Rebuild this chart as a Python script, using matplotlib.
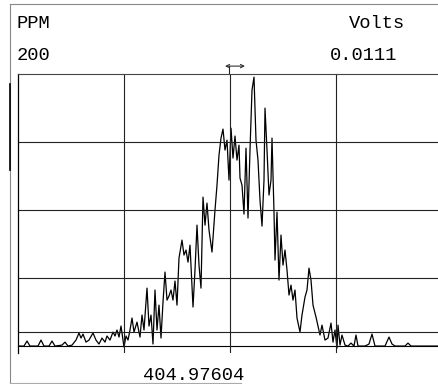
import matplotlib.pyplot as plt
from matplotlib.lines import Line2D

# trace: channel (0 = left edge) and PPM value
channel = [0, 6, 9, 12, 20, 23, 26, 31, 34, 37, 44, 47, 50, 54, 58, 61, 63, 65, 68, 71,
           75, 78, 81, 84, 87, 89, 92, 95, 97, 99, 101, 103, 106, 108, 110, 112, 114, 116, 119, 122,
           124, 126, 129, 131, 133, 135, 137, 139, 141, 143, 145, 147, 149, 151, 153, 155, 157, 159, 161, 164,
           166, 168, 170, 172, 173, 175, 177, 179, 181, 183, 185, 187, 189, 191, 194, 197, 199, 201, 203, 205,
           207, 209, 211, 213, 215, 217, 219, 221, 222, 224, 226, 228, 230, 232, 234, 236, 238, 240, 242, 244,
           246, 247, 249, 251, 253, 254, 256, 257, 259, 261, 263, 265, 267, 269, 271, 273, 275, 277, 279, 282,
           284, 287, 289, 291, 293, 295, 298, 300, 302, 304, 307, 310, 313, 315, 317, 319, 320, 322, 324, 327,
           330, 333, 336, 338, 340, 347, 351, 354, 357, 367, 371, 374, 377, 387, 390, 393, 402, 421]
ppm = [0, 0, 3.7, 0, 0, 4.4, 0, 0, 3.7, 0, 0.7, 2.9, 0, 0.7, 4.4, 9.6, 5.9, 8.8, 2.9, 4.4,
       9.6, 4.4, 1.5, 5.9, 2.9, 7.4, 4.4, 10.3, 7.4, 11.8, 6.6, 14.7, -0.7, 7.4, 4.4, 11.8, 20.6, 10.3, 17.6, 6.6,
       22.8, 11.8, 42.6, 14.7, 22.8, 1.5, 41.2, 11.8, 30.1, 5.9, 32.3, 54.4, 33.8, 36.8, 41.2, 33.8, 47.8, 30.1, 64.7, 77.9,
       66.9, 70.6, 61.7, 74.2, 59.5, 28.7, 55.9, 88.9, 59.5, 42.6, 109.5, 88.9, 105.1, 85.3, 69.1, 100.0, 118.3, 140.4, 152.9, 159.5,
       144.1, 151.4, 122.0, 160.2, 138.2, 154.4, 136.7, 147.7, 123.5, 118.3, 97.0, 145.5, 94.1, 144.1, 188.2, 197.7, 151.4, 136.7, 107.3, 88.2,
       122.0, 174.9, 144.1, 111.0, 122.0, 152.9, 98.5, 63.2, 98.5, 48.5, 81.6, 59.5, 70.6, 55.9, 37.5, 44.8, 33.8, 41.2, 20.6, 10.3,
       22.8, 36.0, 41.2, 57.3, 48.5, 30.1, 21.3, 14.7, 8.1, 15.4, 4.4, 5.9, 16.9, 2.9, 11.8, -1.5, 15.4, 0.7, 8.1, 0.7,
       0, 2.2, 0, 8.1, 0, 0, 1.5, 8.8, 0, 0, 6.6, 1.5, 0, 0, 2.2, 0, 0, 0]

grid_x = [106, 212, 318]
grid_y = [10.3, 50, 100, 150]
center_ch = 212

mono = 'Liberation Mono'

fig = plt.figure(figsize=(4.39, 3.84), dpi=100)
ax = fig.add_axes([18 / 439, 31 / 384, 421 / 439, 279 / 384])

ax.plot(channel, ppm, color='black', lw=0.9)
ax.axhline(0, color='black', lw=0.8)
for gx in grid_x:
    ax.axvline(gx, color='#222222', lw=0.8)
for gy in grid_y:
    ax.axhline(gy, color='#222222', lw=0.8)

ax.set_xlim(0, 421)
ax.set_ylim(-5.1, 200)
ax.set_xticks([])
ax.set_yticks([])
for s in ['right', 'bottom']:
    ax.spines[s].set_visible(False)
ax.spines['left'].set_linewidth(0.9)
ax.spines['top'].set_linewidth(0.8)
ax.spines['top'].set_color('#444444')

# marker above the centre line
ax.plot([center_ch - 1, center_ch - 1], [200, 205.8], color='#222222', lw=0.8, clip_on=False)
ax.annotate('', xy=(227, 205.8), xytext=(207, 205.8), annotation_clip=False,
            arrowprops=dict(arrowstyle='<->', lw=0.8, color='#333333',
                            shrinkA=0, shrinkB=0, mutation_scale=6))

# outer frame of the scanned page
fig.add_artist(Line2D([10 / 439, 1], [1 - 4 / 384, 1 - 4 / 384], color='#888888', lw=0.8))
fig.add_artist(Line2D([10 / 439, 10 / 439], [1 - 4 / 384, 1 / 384], color='#888888', lw=0.8))
fig.add_artist(Line2D([10 / 439, 10 / 439], [1 - 84 / 384, 1 - 170 / 384], color='black', lw=1.2))
fig.add_artist(Line2D([10 / 439, 0.55], [1 / 384, 1 / 384], color='#aaaaaa', lw=0.8))

fs = 13.5
fig.text(17 / 439, 1 - 24 / 384, 'PPM', family=mono, fontsize=fs, va='center', ha='left')
fig.text(17 / 439, 1 - 55 / 384, '200', family=mono, fontsize=fs, va='center', ha='left')
fig.text(405 / 439, 1 - 24 / 384, 'Volts', family=mono, fontsize=fs, va='center', ha='right')
fig.text(397 / 439, 1 - 55 / 384, '0.0111', family=mono, fontsize=fs, va='center', ha='right')
fig.text(143 / 439, 1 - 375 / 384, '404.97604', family=mono, fontsize=fs, va='center', ha='left')

plt.savefig('out.png', dpi=100)
